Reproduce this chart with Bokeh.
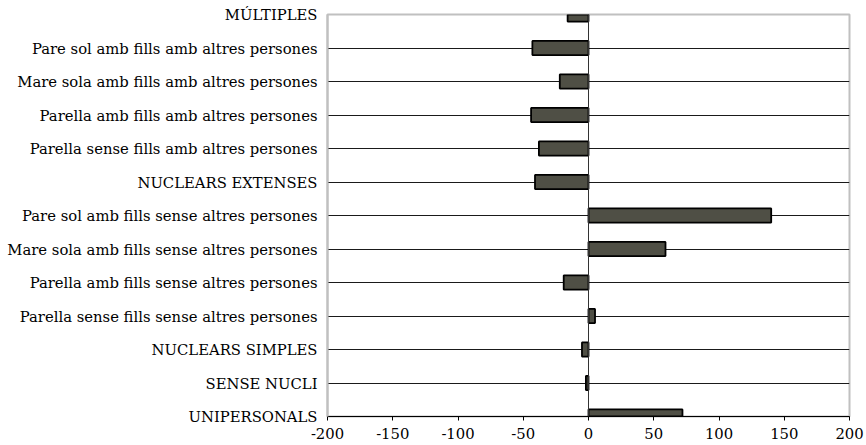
from bokeh.plotting import figure
from bokeh.models import FixedTicker, Span
from bokeh.embed import file_html
from bokeh.resources import INLINE

categories = [
    "UNIPERSONALS",
    "SENSE NUCLI",
    "NUCLEARS SIMPLES",
    "Parella sense fills sense altres persones",
    "Parella amb fills sense altres persones",
    "Mare sola amb fills sense altres persones",
    "Pare sol amb fills sense altres persones",
    "NUCLEARS EXTENSES",
    "Parella sense fills amb altres persones",
    "Parella amb fills amb altres persones",
    "Mare sola amb fills amb altres persones",
    "Pare sol amb fills amb altres persones",
    "MÚLTIPLES",
]
values = [72, -2, -5, 5, -19, 59, 140, -41, -38, -44, -22, -43, -16]
x_ticks = [-200, -150, -100, -50, 0, 50, 100, 150, 200]
x_tick_labels = ["-200", "-150", "-100", "-50", "0", "50", "100", "150", "200"]

positions = list(range(len(categories)))

FONT = "DejaVu Serif"
FSIZE = "14.8px"

p = figure(width=866, height=445, output_backend="svg", toolbar_location=None,
           x_range=(-200, 200), y_range=(0, len(categories) - 1),
           min_border_left=327, min_border_right=17, min_border_top=14,
           min_border_bottom=29)

p.background_fill_color = "white"
p.border_fill_color = "white"
p.outline_line_color = "#c0c0c0"
p.outline_line_width = 2

# grid
p.xgrid.grid_line_color = None
p.ygrid.ticker = FixedTicker(ticks=positions[:-1])
p.ygrid.grid_line_color = "#1a1a1a"
p.ygrid.grid_line_width = 1

# bars
lefts = [min(0, v) for v in values]
rights = [max(0, v) for v in values]
p.hbar(y=positions, left=lefts, right=rights, height=0.42,
       fill_color="#4f4f45", line_color="black", line_width=1.8)

p.add_layout(Span(location=0, dimension="height", line_color="#333333", line_width=1))

# y axis
yax = p.yaxis[0]
yax.ticker = FixedTicker(ticks=positions)
yax.major_label_overrides = {i: c for i, c in enumerate(categories)}
yax.axis_line_color = "#c0c0c0"
yax.axis_line_width = 2
yax.major_tick_out = 0
yax.major_tick_in = 0
yax.minor_tick_line_color = None
yax.major_label_standoff = 10
yax.major_label_text_font = FONT
yax.major_label_text_font_size = FSIZE
yax.major_label_text_color = "black"

# x axis
xax = p.xaxis[0]
xax.ticker = FixedTicker(ticks=x_ticks)
xax.major_label_overrides = {t: l for t, l in zip(x_ticks, x_tick_labels)}
xax.axis_line_color = "black"
xax.axis_line_width = 1
xax.major_tick_out = 4
xax.major_tick_in = 0
xax.major_tick_line_color = "black"
xax.minor_tick_line_color = None
xax.major_label_standoff = 7
xax.major_label_text_font = FONT
xax.major_label_text_font_size = FSIZE
xax.major_label_text_color = "black"

open("out.html", "w").write(file_html(p, INLINE))
